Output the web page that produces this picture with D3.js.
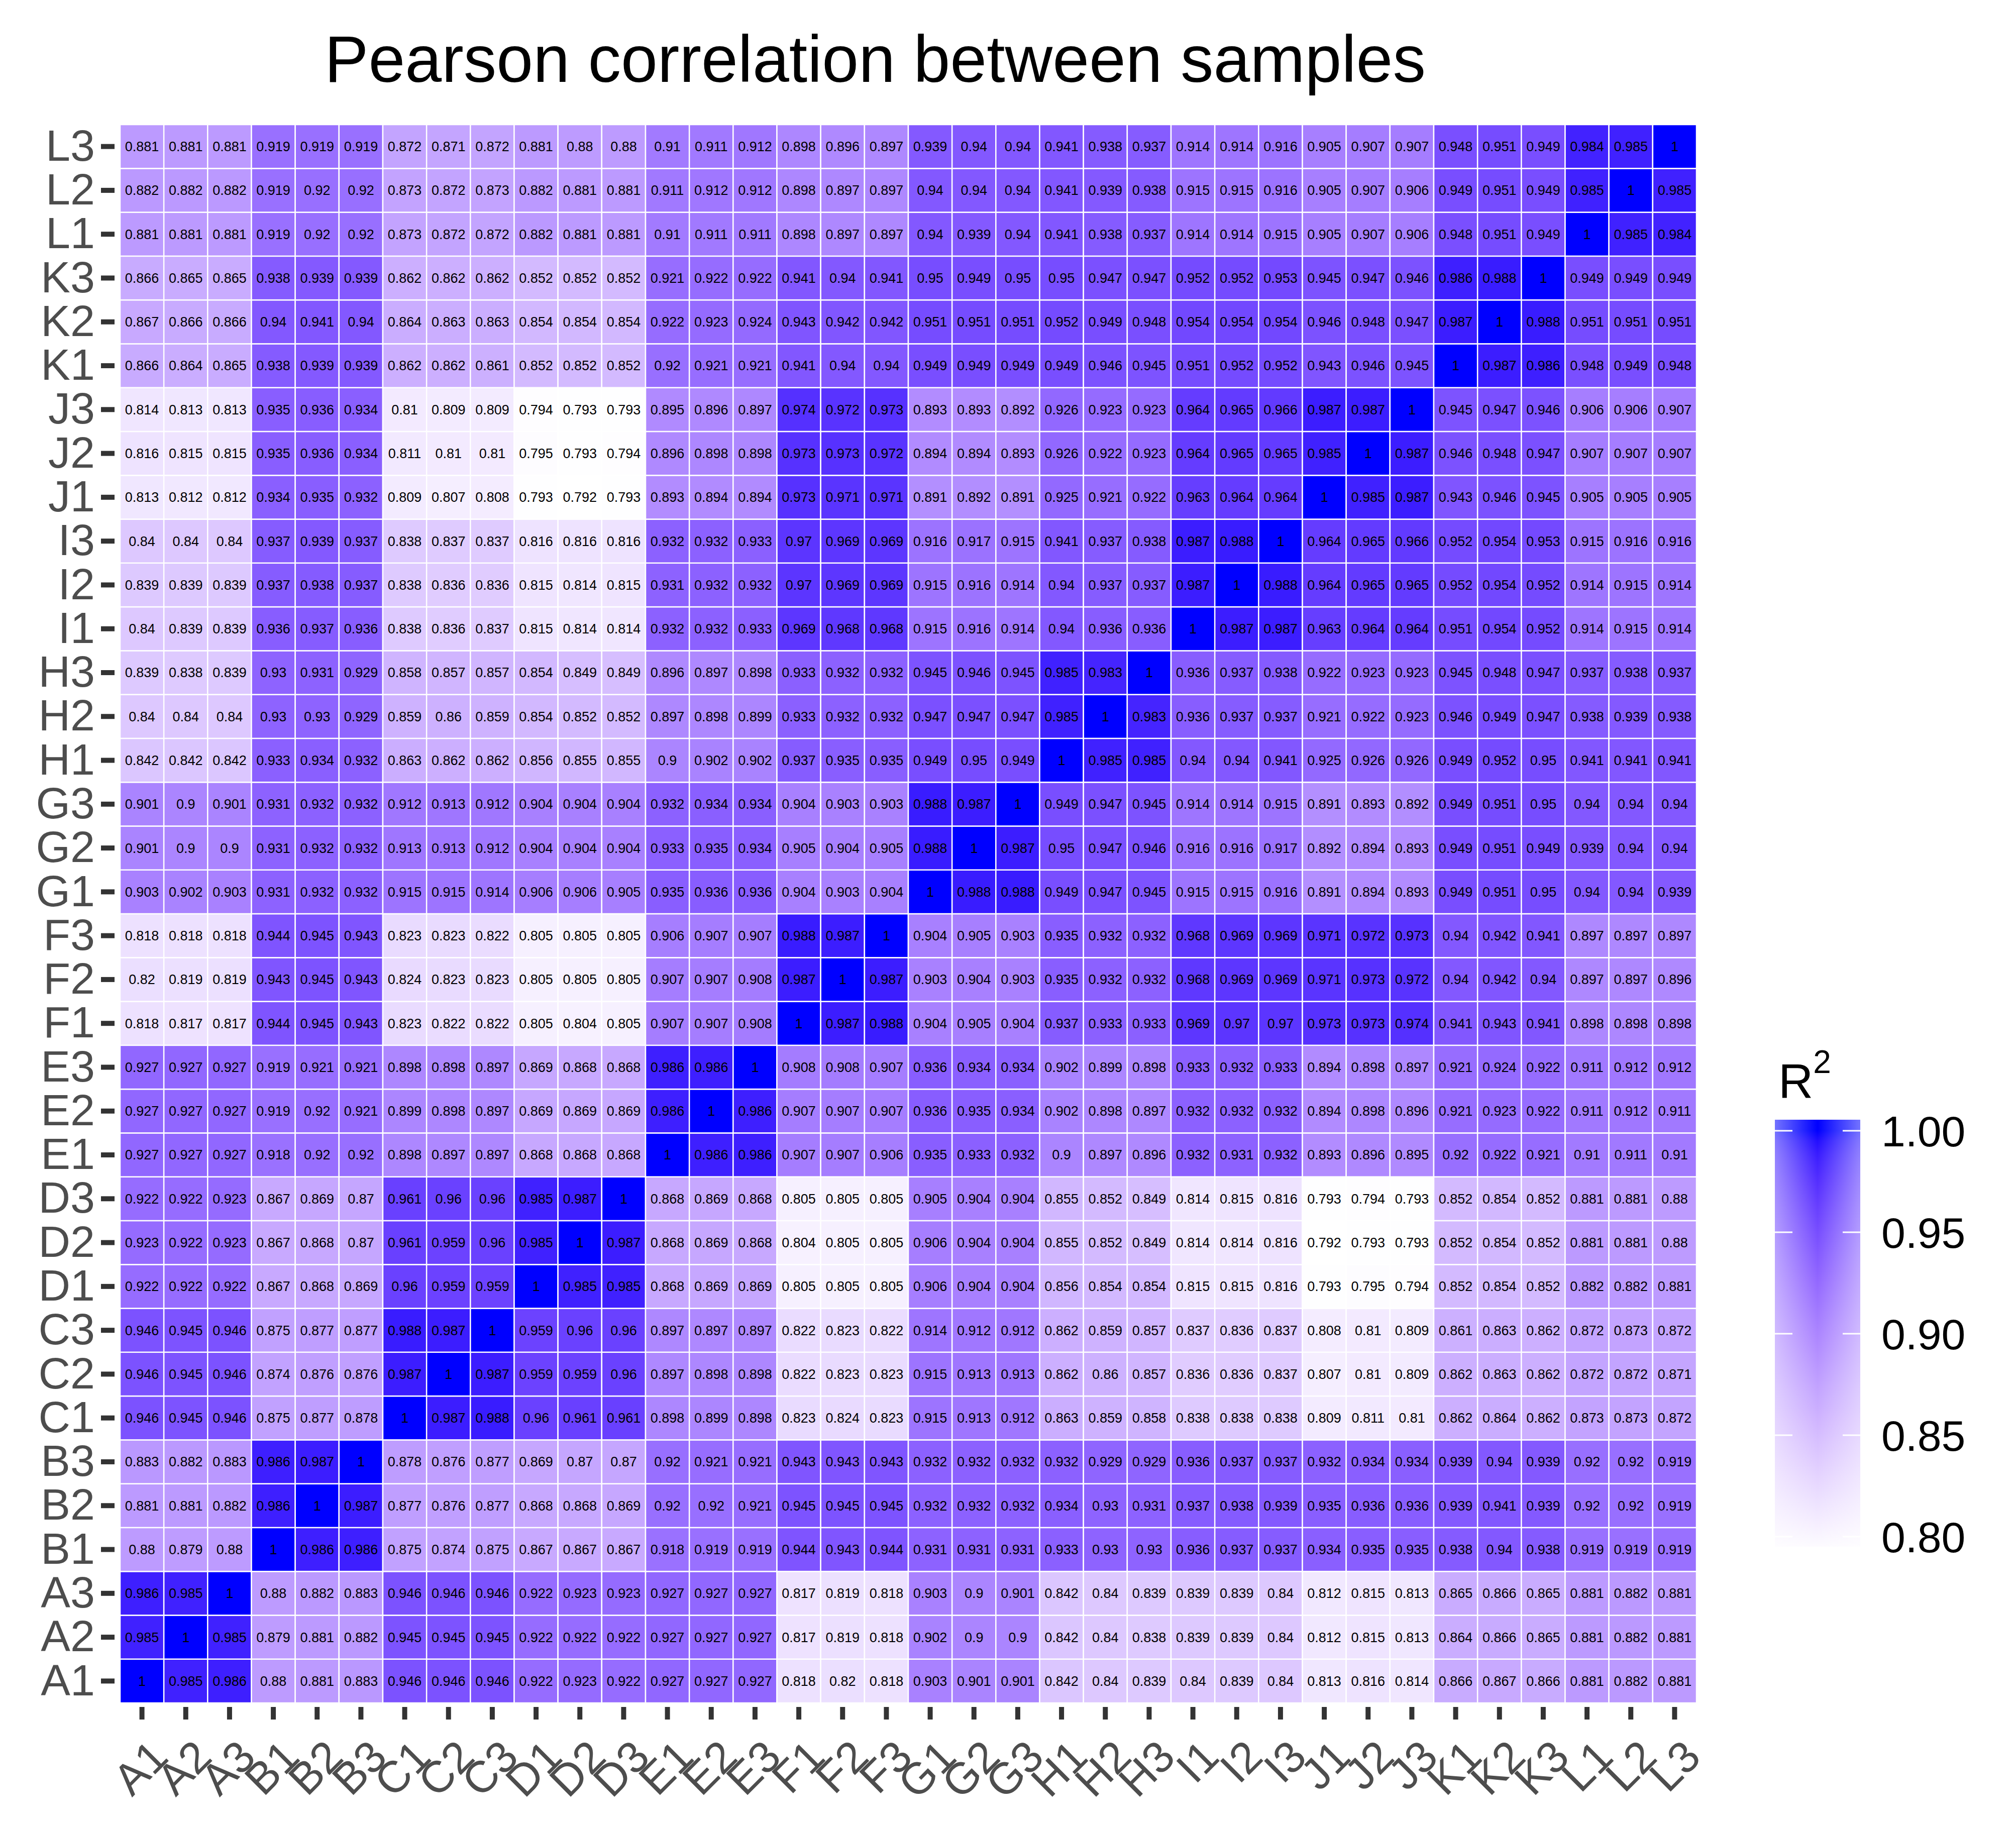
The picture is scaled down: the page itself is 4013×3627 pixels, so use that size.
<!DOCTYPE html>
<html>
<head>
<meta charset="utf-8">
<script src="https://cdn.jsdelivr.net/npm/d3@7"></script>
<style>
  html, body { margin: 0; padding: 0; background: #fff; }
  svg { display: block; }
</style>
</head>
<body>
<div id="chart"></div>
<script>
// sample order (columns left->right, rows bottom->top)
const samples = ["A1","A2","A3","B1","B2","B3","C1","C2","C3","D1","D2","D3",
                 "E1","E2","E3","F1","F2","F3","G1","G2","G3","H1","H2","H3",
                 "I1","I2","I3","J1","J2","J3","K1","K2","K3","L1","L2","L3"];

// one row per sample (column order = samples)
const A1 = [1,0.985,0.986,0.88,0.881,0.883,0.946,0.946,0.946,0.922,0.923,0.922,0.927,0.927,0.927,0.818,0.82,0.818,0.903,0.901,0.901,0.842,0.84,0.839,0.84,0.839,0.84,0.813,0.816,0.814,0.866,0.867,0.866,0.881,0.882,0.881];
const A2 = [0.985,1,0.985,0.879,0.881,0.882,0.945,0.945,0.945,0.922,0.922,0.922,0.927,0.927,0.927,0.817,0.819,0.818,0.902,0.9,0.9,0.842,0.84,0.838,0.839,0.839,0.84,0.812,0.815,0.813,0.864,0.866,0.865,0.881,0.882,0.881];
const A3 = [0.986,0.985,1,0.88,0.882,0.883,0.946,0.946,0.946,0.922,0.923,0.923,0.927,0.927,0.927,0.817,0.819,0.818,0.903,0.9,0.901,0.842,0.84,0.839,0.839,0.839,0.84,0.812,0.815,0.813,0.865,0.866,0.865,0.881,0.882,0.881];
const B1 = [0.88,0.879,0.88,1,0.986,0.986,0.875,0.874,0.875,0.867,0.867,0.867,0.918,0.919,0.919,0.944,0.943,0.944,0.931,0.931,0.931,0.933,0.93,0.93,0.936,0.937,0.937,0.934,0.935,0.935,0.938,0.94,0.938,0.919,0.919,0.919];
const B2 = [0.881,0.881,0.882,0.986,1,0.987,0.877,0.876,0.877,0.868,0.868,0.869,0.92,0.92,0.921,0.945,0.945,0.945,0.932,0.932,0.932,0.934,0.93,0.931,0.937,0.938,0.939,0.935,0.936,0.936,0.939,0.941,0.939,0.92,0.92,0.919];
const B3 = [0.883,0.882,0.883,0.986,0.987,1,0.878,0.876,0.877,0.869,0.87,0.87,0.92,0.921,0.921,0.943,0.943,0.943,0.932,0.932,0.932,0.932,0.929,0.929,0.936,0.937,0.937,0.932,0.934,0.934,0.939,0.94,0.939,0.92,0.92,0.919];
const C1 = [0.946,0.945,0.946,0.875,0.877,0.878,1,0.987,0.988,0.96,0.961,0.961,0.898,0.899,0.898,0.823,0.824,0.823,0.915,0.913,0.912,0.863,0.859,0.858,0.838,0.838,0.838,0.809,0.811,0.81,0.862,0.864,0.862,0.873,0.873,0.872];
const C2 = [0.946,0.945,0.946,0.874,0.876,0.876,0.987,1,0.987,0.959,0.959,0.96,0.897,0.898,0.898,0.822,0.823,0.823,0.915,0.913,0.913,0.862,0.86,0.857,0.836,0.836,0.837,0.807,0.81,0.809,0.862,0.863,0.862,0.872,0.872,0.871];
const C3 = [0.946,0.945,0.946,0.875,0.877,0.877,0.988,0.987,1,0.959,0.96,0.96,0.897,0.897,0.897,0.822,0.823,0.822,0.914,0.912,0.912,0.862,0.859,0.857,0.837,0.836,0.837,0.808,0.81,0.809,0.861,0.863,0.862,0.872,0.873,0.872];
const D1 = [0.922,0.922,0.922,0.867,0.868,0.869,0.96,0.959,0.959,1,0.985,0.985,0.868,0.869,0.869,0.805,0.805,0.805,0.906,0.904,0.904,0.856,0.854,0.854,0.815,0.815,0.816,0.793,0.795,0.794,0.852,0.854,0.852,0.882,0.882,0.881];
const D2 = [0.923,0.922,0.923,0.867,0.868,0.87,0.961,0.959,0.96,0.985,1,0.987,0.868,0.869,0.868,0.804,0.805,0.805,0.906,0.904,0.904,0.855,0.852,0.849,0.814,0.814,0.816,0.792,0.793,0.793,0.852,0.854,0.852,0.881,0.881,0.88];
const D3 = [0.922,0.922,0.923,0.867,0.869,0.87,0.961,0.96,0.96,0.985,0.987,1,0.868,0.869,0.868,0.805,0.805,0.805,0.905,0.904,0.904,0.855,0.852,0.849,0.814,0.815,0.816,0.793,0.794,0.793,0.852,0.854,0.852,0.881,0.881,0.88];
const E1 = [0.927,0.927,0.927,0.918,0.92,0.92,0.898,0.897,0.897,0.868,0.868,0.868,1,0.986,0.986,0.907,0.907,0.906,0.935,0.933,0.932,0.9,0.897,0.896,0.932,0.931,0.932,0.893,0.896,0.895,0.92,0.922,0.921,0.91,0.911,0.91];
const E2 = [0.927,0.927,0.927,0.919,0.92,0.921,0.899,0.898,0.897,0.869,0.869,0.869,0.986,1,0.986,0.907,0.907,0.907,0.936,0.935,0.934,0.902,0.898,0.897,0.932,0.932,0.932,0.894,0.898,0.896,0.921,0.923,0.922,0.911,0.912,0.911];
const E3 = [0.927,0.927,0.927,0.919,0.921,0.921,0.898,0.898,0.897,0.869,0.868,0.868,0.986,0.986,1,0.908,0.908,0.907,0.936,0.934,0.934,0.902,0.899,0.898,0.933,0.932,0.933,0.894,0.898,0.897,0.921,0.924,0.922,0.911,0.912,0.912];
const F1 = [0.818,0.817,0.817,0.944,0.945,0.943,0.823,0.822,0.822,0.805,0.804,0.805,0.907,0.907,0.908,1,0.987,0.988,0.904,0.905,0.904,0.937,0.933,0.933,0.969,0.97,0.97,0.973,0.973,0.974,0.941,0.943,0.941,0.898,0.898,0.898];
const F2 = [0.82,0.819,0.819,0.943,0.945,0.943,0.824,0.823,0.823,0.805,0.805,0.805,0.907,0.907,0.908,0.987,1,0.987,0.903,0.904,0.903,0.935,0.932,0.932,0.968,0.969,0.969,0.971,0.973,0.972,0.94,0.942,0.94,0.897,0.897,0.896];
const F3 = [0.818,0.818,0.818,0.944,0.945,0.943,0.823,0.823,0.822,0.805,0.805,0.805,0.906,0.907,0.907,0.988,0.987,1,0.904,0.905,0.903,0.935,0.932,0.932,0.968,0.969,0.969,0.971,0.972,0.973,0.94,0.942,0.941,0.897,0.897,0.897];
const G1 = [0.903,0.902,0.903,0.931,0.932,0.932,0.915,0.915,0.914,0.906,0.906,0.905,0.935,0.936,0.936,0.904,0.903,0.904,1,0.988,0.988,0.949,0.947,0.945,0.915,0.915,0.916,0.891,0.894,0.893,0.949,0.951,0.95,0.94,0.94,0.939];
const G2 = [0.901,0.9,0.9,0.931,0.932,0.932,0.913,0.913,0.912,0.904,0.904,0.904,0.933,0.935,0.934,0.905,0.904,0.905,0.988,1,0.987,0.95,0.947,0.946,0.916,0.916,0.917,0.892,0.894,0.893,0.949,0.951,0.949,0.939,0.94,0.94];
const G3 = [0.901,0.9,0.901,0.931,0.932,0.932,0.912,0.913,0.912,0.904,0.904,0.904,0.932,0.934,0.934,0.904,0.903,0.903,0.988,0.987,1,0.949,0.947,0.945,0.914,0.914,0.915,0.891,0.893,0.892,0.949,0.951,0.95,0.94,0.94,0.94];
const H1 = [0.842,0.842,0.842,0.933,0.934,0.932,0.863,0.862,0.862,0.856,0.855,0.855,0.9,0.902,0.902,0.937,0.935,0.935,0.949,0.95,0.949,1,0.985,0.985,0.94,0.94,0.941,0.925,0.926,0.926,0.949,0.952,0.95,0.941,0.941,0.941];
const H2 = [0.84,0.84,0.84,0.93,0.93,0.929,0.859,0.86,0.859,0.854,0.852,0.852,0.897,0.898,0.899,0.933,0.932,0.932,0.947,0.947,0.947,0.985,1,0.983,0.936,0.937,0.937,0.921,0.922,0.923,0.946,0.949,0.947,0.938,0.939,0.938];
const H3 = [0.839,0.838,0.839,0.93,0.931,0.929,0.858,0.857,0.857,0.854,0.849,0.849,0.896,0.897,0.898,0.933,0.932,0.932,0.945,0.946,0.945,0.985,0.983,1,0.936,0.937,0.938,0.922,0.923,0.923,0.945,0.948,0.947,0.937,0.938,0.937];
const I1 = [0.84,0.839,0.839,0.936,0.937,0.936,0.838,0.836,0.837,0.815,0.814,0.814,0.932,0.932,0.933,0.969,0.968,0.968,0.915,0.916,0.914,0.94,0.936,0.936,1,0.987,0.987,0.963,0.964,0.964,0.951,0.954,0.952,0.914,0.915,0.914];
const I2 = [0.839,0.839,0.839,0.937,0.938,0.937,0.838,0.836,0.836,0.815,0.814,0.815,0.931,0.932,0.932,0.97,0.969,0.969,0.915,0.916,0.914,0.94,0.937,0.937,0.987,1,0.988,0.964,0.965,0.965,0.952,0.954,0.952,0.914,0.915,0.914];
const I3 = [0.84,0.84,0.84,0.937,0.939,0.937,0.838,0.837,0.837,0.816,0.816,0.816,0.932,0.932,0.933,0.97,0.969,0.969,0.916,0.917,0.915,0.941,0.937,0.938,0.987,0.988,1,0.964,0.965,0.966,0.952,0.954,0.953,0.915,0.916,0.916];
const J1 = [0.813,0.812,0.812,0.934,0.935,0.932,0.809,0.807,0.808,0.793,0.792,0.793,0.893,0.894,0.894,0.973,0.971,0.971,0.891,0.892,0.891,0.925,0.921,0.922,0.963,0.964,0.964,1,0.985,0.987,0.943,0.946,0.945,0.905,0.905,0.905];
const J2 = [0.816,0.815,0.815,0.935,0.936,0.934,0.811,0.81,0.81,0.795,0.793,0.794,0.896,0.898,0.898,0.973,0.973,0.972,0.894,0.894,0.893,0.926,0.922,0.923,0.964,0.965,0.965,0.985,1,0.987,0.946,0.948,0.947,0.907,0.907,0.907];
const J3 = [0.814,0.813,0.813,0.935,0.936,0.934,0.81,0.809,0.809,0.794,0.793,0.793,0.895,0.896,0.897,0.974,0.972,0.973,0.893,0.893,0.892,0.926,0.923,0.923,0.964,0.965,0.966,0.987,0.987,1,0.945,0.947,0.946,0.906,0.906,0.907];
const K1 = [0.866,0.864,0.865,0.938,0.939,0.939,0.862,0.862,0.861,0.852,0.852,0.852,0.92,0.921,0.921,0.941,0.94,0.94,0.949,0.949,0.949,0.949,0.946,0.945,0.951,0.952,0.952,0.943,0.946,0.945,1,0.987,0.986,0.948,0.949,0.948];
const K2 = [0.867,0.866,0.866,0.94,0.941,0.94,0.864,0.863,0.863,0.854,0.854,0.854,0.922,0.923,0.924,0.943,0.942,0.942,0.951,0.951,0.951,0.952,0.949,0.948,0.954,0.954,0.954,0.946,0.948,0.947,0.987,1,0.988,0.951,0.951,0.951];
const K3 = [0.866,0.865,0.865,0.938,0.939,0.939,0.862,0.862,0.862,0.852,0.852,0.852,0.921,0.922,0.922,0.941,0.94,0.941,0.95,0.949,0.95,0.95,0.947,0.947,0.952,0.952,0.953,0.945,0.947,0.946,0.986,0.988,1,0.949,0.949,0.949];
const L1 = [0.881,0.881,0.881,0.919,0.92,0.92,0.873,0.872,0.872,0.882,0.881,0.881,0.91,0.911,0.911,0.898,0.897,0.897,0.94,0.939,0.94,0.941,0.938,0.937,0.914,0.914,0.915,0.905,0.907,0.906,0.948,0.951,0.949,1,0.985,0.984];
const L2 = [0.882,0.882,0.882,0.919,0.92,0.92,0.873,0.872,0.873,0.882,0.881,0.881,0.911,0.912,0.912,0.898,0.897,0.897,0.94,0.94,0.94,0.941,0.939,0.938,0.915,0.915,0.916,0.905,0.907,0.906,0.949,0.951,0.949,0.985,1,0.985];
const L3 = [0.881,0.881,0.881,0.919,0.919,0.919,0.872,0.871,0.872,0.881,0.88,0.88,0.91,0.911,0.912,0.898,0.896,0.897,0.939,0.94,0.94,0.941,0.938,0.937,0.914,0.914,0.916,0.905,0.907,0.907,0.948,0.951,0.949,0.984,0.985,1];

const rows = [A1,A2,A3,B1,B2,B3,C1,C2,C3,D1,D2,D3,E1,E2,E3,F1,F2,F3,G1,G2,G3,H1,H2,H3,I1,I2,I3,J1,J2,J3,K1,K2,K3,L1,L2,L3];

const legendTicks = [0.80, 0.85, 0.90, 0.95, 1.00];
const titleText = "Pearson correlation between samples";

// ---------------------------------------------------------------------------
const FONT = "'Liberation Sans', Arial, Helvetica, sans-serif";
const totalW = 4013, totalH = 3627;
const panel = { left: 239, right: 3377, top: 248, bottom: 3390 };

const svg = d3.select("#chart").append("svg")
  .attr("width", totalW).attr("height", totalH)
  .attr("viewBox", `0 0 ${totalW} ${totalH}`)
  .style("background", "#fff");

const cells = [];
rows.forEach((vals, i) => vals.forEach((v, j) => cells.push({ row: samples[i], col: samples[j], value: v })));

const xScale = d3.scaleBand().domain(samples).range([panel.left, panel.right]);
const yScale = d3.scaleBand().domain(samples.slice().reverse()).range([panel.top, panel.bottom]);

const vmin = d3.min(cells, d => d.value), vmax = d3.max(cells, d => d.value);
const color = d3.scaleLinear().domain([vmin, vmax]).range(["white", "blue"])
  .interpolate(d3.interpolateLab).clamp(true);

// tiles
svg.append("g").selectAll("rect").data(cells).join("rect")
  .attr("x", d => xScale(d.col)).attr("y", d => yScale(d.row))
  .attr("width", xScale.bandwidth()).attr("height", yScale.bandwidth())
  .attr("fill", d => color(d.value))
  .attr("stroke", "#fff").attr("stroke-width", 2.5);

// cell labels
svg.append("g").selectAll("text").data(cells).join("text")
  .attr("x", d => xScale(d.col) + xScale.bandwidth() / 2)
  .attr("y", d => yScale(d.row) + yScale.bandwidth() / 2)
  .attr("dy", "0.35em").attr("text-anchor", "middle")
  .attr("fill", "#000")
  .style("font-family", FONT).style("font-size", "27px")
  .text(d => String(d.value));

// axes
const styleAxis = sel => sel
  .call(a => a.select(".domain").remove())
  .call(a => a.selectAll(".tick line").attr("stroke", "#333333").attr("stroke-width", 10))
  .call(a => a.selectAll(".tick text").attr("fill", "#4d4d4d")
    .style("font-family", FONT).style("font-size", "88px"));

svg.append("g").attr("transform", `translate(228,0)`)
  .call(d3.axisLeft(yScale).tickSizeInner(27).tickSizeOuter(0).tickPadding(12))
  .call(styleAxis);

const xAxis = svg.append("g").attr("transform", `translate(0,3398)`)
  .call(d3.axisBottom(xScale).tickSizeInner(25).tickSizeOuter(0))
  .call(styleAxis);
xAxis.selectAll(".tick text")
  .attr("x", null).attr("y", null).attr("dy", "0.71em")
  .attr("text-anchor", "end")
  .attr("transform", "translate(12,60) rotate(-45)");

// title
svg.append("text").attr("x", 1742).attr("y", 163)
  .attr("text-anchor", "middle").attr("fill", "#000")
  .style("font-family", FONT).style("font-size", "131px")
  .text(titleText);

// colour bar legend
const legendY = d3.scaleLinear().domain([0.80, 1.00]).range([3059, 2251]);
const bar = { x: 3533, w: 170, top: 2229, bottom: 3079 };

const defs = svg.append("defs");
const vgrad = defs.append("linearGradient").attr("id", "bar-grad")
  .attr("x1", 0).attr("x2", 0).attr("y1", 0).attr("y2", 1);
d3.range(41).forEach(i => {
  const yy = bar.top + (bar.bottom - bar.top) * i / 40;
  vgrad.append("stop").attr("offset", `${i * 2.5}%`).attr("stop-color", color(legendY.invert(yy)));
});
const hgrad = defs.append("linearGradient").attr("id", "bar-fade")
  .attr("x1", 0).attr("x2", 1).attr("y1", 0).attr("y2", 0);
[[0, 0.45], [0.5, 0], [1, 0.45]].forEach(([o, a]) =>
  hgrad.append("stop").attr("offset", o).attr("stop-color", "#fff").attr("stop-opacity", a));

svg.append("rect").attr("x", bar.x).attr("y", bar.top)
  .attr("width", bar.w).attr("height", bar.bottom - bar.top).attr("fill", "url(#bar-grad)");
svg.append("rect").attr("x", bar.x).attr("y", bar.top)
  .attr("width", bar.w).attr("height", bar.bottom - bar.top).attr("fill", "url(#bar-fade)");

const lt = svg.append("g").selectAll("g").data(legendTicks).join("g");
lt.append("line").attr("x1", bar.x).attr("x2", bar.x + 35)
  .attr("y1", d => legendY(d)).attr("y2", d => legendY(d))
  .attr("stroke", "#fff").attr("stroke-width", 3);
lt.append("line").attr("x1", bar.x + bar.w - 35).attr("x2", bar.x + bar.w)
  .attr("y1", d => legendY(d)).attr("y2", d => legendY(d))
  .attr("stroke", "#fff").attr("stroke-width", 3);
lt.append("text").attr("x", 3745).attr("y", d => legendY(d)).attr("dy", "0.36em")
  .attr("fill", "#000")
  .style("font-family", FONT).style("font-size", "86px")
  .text(d => d3.format(".2f")(d));

const lTitle = svg.append("text").attr("x", 3540).attr("y", 2186)
  .attr("fill", "#000").style("font-family", FONT).style("font-size", "96px");
lTitle.append("tspan").text("R");
lTitle.append("tspan").attr("dy", -50).style("font-size", "64px").text("2");
</script>
</body>
</html>
